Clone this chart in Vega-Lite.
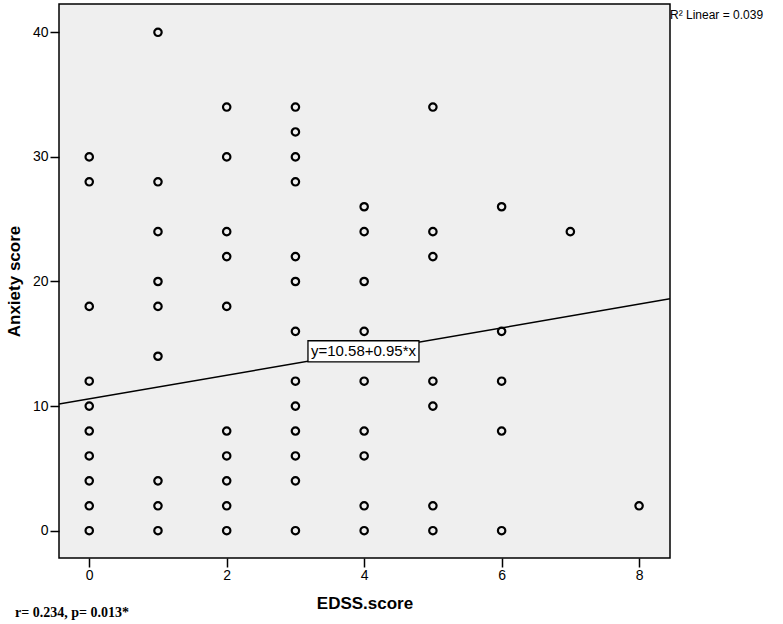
{
  "$schema": "https://vega.github.io/schema/vega-lite/v6.json",
  "autosize": "none",
  "width": 611,
  "height": 554,
  "padding": {"left": 59, "top": 4, "right": 113, "bottom": 66},
  "background": "white",
  "config": {
    "view": {"fill": "#efefef", "stroke": "black", "strokeWidth": 1.5},
    "font": "Liberation Sans"
  },
  "datasets": {
    "pts": [
      {"edss": 0, "anx": 30}, {"edss": 0, "anx": 28}, {"edss": 0, "anx": 18}, {"edss": 0, "anx": 12}, {"edss": 0, "anx": 10},
      {"edss": 0, "anx": 8}, {"edss": 0, "anx": 6}, {"edss": 0, "anx": 4}, {"edss": 0, "anx": 2}, {"edss": 0, "anx": 0},
      {"edss": 1, "anx": 40}, {"edss": 1, "anx": 28}, {"edss": 1, "anx": 24}, {"edss": 1, "anx": 20}, {"edss": 1, "anx": 18},
      {"edss": 1, "anx": 14}, {"edss": 1, "anx": 4}, {"edss": 1, "anx": 2}, {"edss": 1, "anx": 0},
      {"edss": 2, "anx": 34}, {"edss": 2, "anx": 30}, {"edss": 2, "anx": 24}, {"edss": 2, "anx": 22}, {"edss": 2, "anx": 18},
      {"edss": 2, "anx": 8}, {"edss": 2, "anx": 6}, {"edss": 2, "anx": 4}, {"edss": 2, "anx": 2}, {"edss": 2, "anx": 0},
      {"edss": 3, "anx": 34}, {"edss": 3, "anx": 32}, {"edss": 3, "anx": 30}, {"edss": 3, "anx": 28}, {"edss": 3, "anx": 22},
      {"edss": 3, "anx": 20}, {"edss": 3, "anx": 16}, {"edss": 3, "anx": 12}, {"edss": 3, "anx": 10}, {"edss": 3, "anx": 8},
      {"edss": 3, "anx": 6}, {"edss": 3, "anx": 4}, {"edss": 3, "anx": 0},
      {"edss": 4, "anx": 26}, {"edss": 4, "anx": 24}, {"edss": 4, "anx": 20}, {"edss": 4, "anx": 16}, {"edss": 4, "anx": 12},
      {"edss": 4, "anx": 8}, {"edss": 4, "anx": 6}, {"edss": 4, "anx": 2}, {"edss": 4, "anx": 0},
      {"edss": 5, "anx": 34}, {"edss": 5, "anx": 24}, {"edss": 5, "anx": 22}, {"edss": 5, "anx": 12}, {"edss": 5, "anx": 10},
      {"edss": 5, "anx": 2}, {"edss": 5, "anx": 0},
      {"edss": 6, "anx": 26}, {"edss": 6, "anx": 16}, {"edss": 6, "anx": 12}, {"edss": 6, "anx": 8}, {"edss": 6, "anx": 0},
      {"edss": 7, "anx": 24},
      {"edss": 8, "anx": 2}
    ],
    "fit": [
      {"edss": -0.44, "anx": 10.162},
      {"edss": 8.45, "anx": 18.6075}
    ],
    "eq": [
      {"edss": 3.99, "anx": 14.4, "label": "y=10.58+0.95*x"}
    ]
  },
  "layer": [
    {
      "data": {"name": "fit"},
      "mark": {"type": "line", "color": "black", "strokeWidth": 1.5, "clip": true},
      "encoding": {
        "x": {
          "field": "edss", "type": "quantitative",
          "scale": {"domain": [-0.44, 8.45], "nice": false, "zero": false},
          "axis": {
            "title": "EDSS.score", "values": [0, 2, 4, 6, 8], "format": "d", "grid": false, "domain": false,
            "tickColor": "black", "tickSize": 9, "tickWidth": 1.5,
            "labelFontSize": 14, "labelColor": "black", "labelPadding": 1, "labelFont": "Liberation Sans",
            "titleFontSize": 17, "titleFontWeight": "bold", "titleColor": "black", "titlePadding": 13, "titleFont": "Liberation Sans"
          }
        },
        "y": {
          "field": "anx", "type": "quantitative",
          "scale": {"domain": [-2.19, 42.27], "nice": false, "zero": false},
          "axis": {
            "title": "Anxiety score", "values": [0, 10, 20, 30, 40], "format": "d", "grid": false, "domain": false,
            "tickColor": "black", "tickSize": 9, "tickWidth": 1.5,
            "labelFontSize": 14, "labelColor": "black", "labelPadding": 2, "labelFont": "Liberation Sans",
            "titleFontSize": 17, "titleFontWeight": "bold", "titleColor": "black", "titlePadding": 9, "titleFont": "Liberation Sans"
          }
        }
      }
    },
    {
      "data": {"name": "pts"},
      "mark": {"type": "point", "shape": "circle", "filled": false, "stroke": "black", "strokeWidth": 2.2, "size": 55, "opacity": 1},
      "encoding": {
        "x": {"field": "edss", "type": "quantitative"},
        "y": {"field": "anx", "type": "quantitative"}
      }
    },
    {
      "data": {"name": "eq"},
      "mark": {"type": "point", "shape": "M-1,-0.19L1,-0.19L1,0.19L-1,0.19Z", "size": 12321, "filled": true, "fill": "white", "stroke": "black", "strokeWidth": 1.3, "opacity": 1},
      "encoding": {
        "x": {"field": "edss", "type": "quantitative"},
        "y": {"field": "anx", "type": "quantitative"}
      }
    },
    {
      "data": {"name": "eq"},
      "mark": {"type": "text", "fontSize": 15, "font": "Liberation Sans", "color": "black", "align": "center", "baseline": "middle"},
      "encoding": {
        "x": {"field": "edss", "type": "quantitative"},
        "y": {"field": "anx", "type": "quantitative"},
        "text": {"field": "label"}
      }
    },
    {
      "data": {"values": [{"t": "R² Linear = 0.039"}]},
      "mark": {"type": "text", "fontSize": 12, "font": "Liberation Sans", "color": "black", "align": "left", "baseline": "middle", "dx": 0},
      "encoding": {
        "x": {"datum": 8.45, "type": "quantitative"},
        "y": {"datum": 41.4, "type": "quantitative"},
        "text": {"field": "t"}
      }
    },
    {
      "data": {"values": [{"t": "r= 0.234, p= 0.013*"}]},
      "mark": {"type": "text", "fontSize": 14, "font": "Liberation Serif", "fontWeight": "bold", "color": "black", "align": "left", "baseline": "middle"},
      "encoding": {
        "x": {"datum": -1.08, "type": "quantitative"},
        "y": {"datum": -6.6, "type": "quantitative"},
        "text": {"field": "t"}
      }
    }
  ]
}
